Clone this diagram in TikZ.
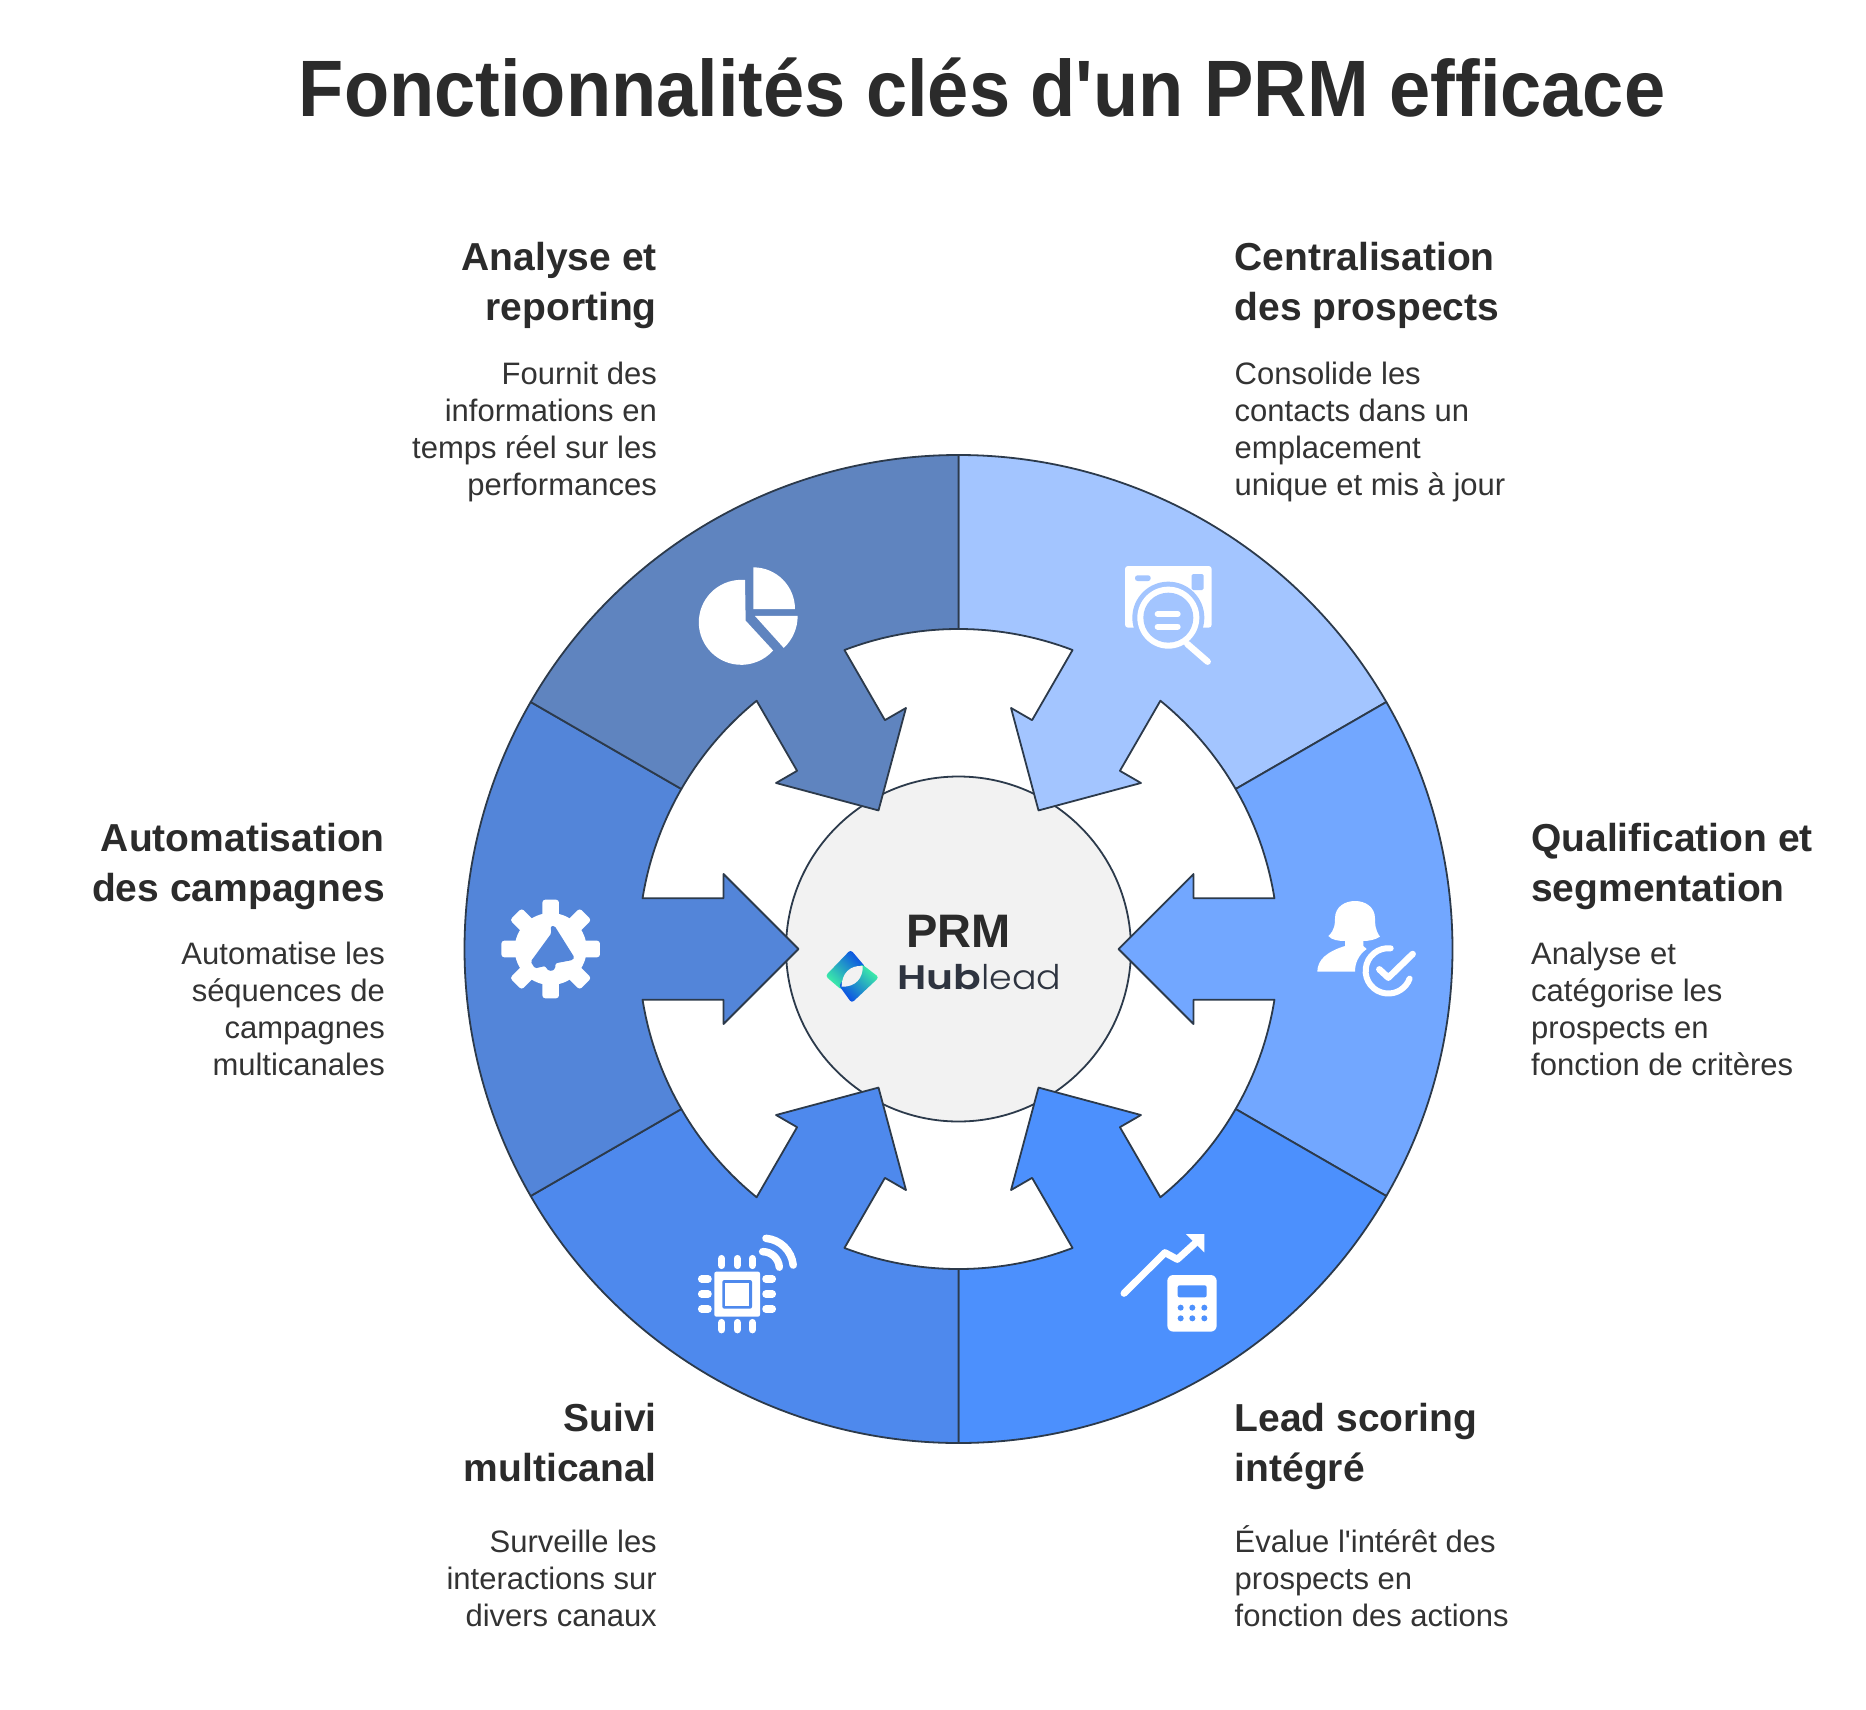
\documentclass[tikz,border=0pt]{standalone}
\usepackage{fontspec}
\usepackage{graphicx}
\setmainfont{Liberation Sans}[Ligatures=TeXOff]
\newfontfamily\hubbold{Poppins}[UprightFont=* SemiBold]
\newfontfamily\hublight{Poppins}[UprightFont=* Light]
\definecolor{ink}{HTML}{2B2B2B}
\definecolor{bodyink}{HTML}{333333}
\definecolor{edge}{HTML}{2C3A4B}
\definecolor{segA}{HTML}{A3C5FF}
\definecolor{segB}{HTML}{72A7FF}
\definecolor{segC}{HTML}{4C90FD}
\definecolor{segD}{HTML}{4E89ED}
\definecolor{segE}{HTML}{5385D9}
\definecolor{segF}{HTML}{5F84BF}
\definecolor{hubdark}{HTML}{2E3440}
\definecolor{hubblue}{HTML}{0A4BE6}
\definecolor{hubgreen}{HTML}{3DF2A6}
\newcommand{\titlefont}{\fontsize{39}{49.5}\selectfont\bfseries}
\newcommand{\bodyfont}{\fontsize{31}{37}\selectfont}
\tikzset{
  x=1pt,y=1pt,
  seg/.style={draw=edge,line width=1.8pt,line join=round},
  heading/.style={inner sep=0pt,text=ink,font=\titlefont},
  bodytext/.style={inner sep=0pt,text=bodyink,font=\bodyfont},
  icon/.style={x=0.3333pt,y=-0.3333pt},
}
\newcommand{\wheelseg}[2]{%
  \begin{scope}[shift={(958.5,-949)},rotate=#1]
    \path[seg,fill=#2] (30:494) arc[start angle=30,end angle=-30,radius=494]
      -- (-30:320) arc[start angle=-30,end angle=-9.12,radius=320]
      -- (235,-50.7) -- (235,-75) -- (160,0) -- (235,75) -- (235,50.7)
      -- (9.12:320) arc[start angle=9.12,end angle=30,radius=320] -- cycle;
  \end{scope}}
\begin{document}
\begin{tikzpicture}
\useasboundingbox (0,0) rectangle (1866,-1710);
\fill[white] (0,0) rectangle (1866,-1710);
\node[inner sep=0pt,text=ink,font=\fontsize{80}{80}\selectfont\bfseries,anchor=base] (title) at (982,-116) {\scalebox{0.925}[1]{Fonctionnalités clés d'un PRM efficace}};

\path[draw=edge,line width=1.8pt,fill=black!5] (958.5,-949) circle (172.5);
\wheelseg{60}{segA}
\wheelseg{0}{segB}
\wheelseg{-60}{segC}
\wheelseg{-120}{segD}
\wheelseg{180}{segE}
\wheelseg{120}{segF}

\node[heading,anchor=base west,align=left] (h1) at (1234.5,-320) {Centralisation\\des prospects};
\node[bodytext,anchor=base west,align=left] (b1) at (1234.5,-495) {Consolide les\\contacts dans un\\emplacement\\unique et mis à jour};
\node[heading,anchor=base west,align=left] (h2) at (1531,-901) {Qualification et\\segmentation};
\node[bodytext,anchor=base west,align=left] (b2) at (1531,-1075) {Analyse et\\catégorise les\\prospects en\\fonction de critères};
\node[heading,anchor=base west,align=left] (h3) at (1234.5,-1481) {Lead scoring\\intégré};
\node[bodytext,anchor=base west,align=left] (b3) at (1234.5,-1626) {Évalue l'intérêt des\\prospects en\\fonction des actions};
\node[heading,anchor=base east,align=right] (h4) at (657,-1481) {Suivi\\multicanal};
\node[bodytext,anchor=base east,align=right] (b4) at (657,-1626) {Surveille les\\interactions sur\\divers canaux};
\node[heading,anchor=base east,align=right] (h5) at (385,-901) {Automatisation\\des campagnes};
\node[bodytext,anchor=base east,align=right] (b5) at (385,-1075) {Automatise les\\séquences de\\campagnes\\multicanales};
\node[heading,anchor=base east,align=right] (h6) at (657,-320) {Analyse et\\reporting};
\node[bodytext,anchor=base east,align=right] (b6) at (657,-495) {Fournit des\\informations en\\temps réel sur les\\performances};

\node[inner sep=0pt,text=ink,font=\fontsize{47}{47}\selectfont\bfseries,anchor=base] (prm) at (958.5,-947) {PRM};
\node[inner sep=0pt,text=hubdark,anchor=base west] (hub) at (897,-989) {\fontsize{34}{34}\selectfont\scalebox{1.2}[1]{\hubbold Hub}\scalebox{1.07}[1]{\hublight lead}};

% logo mark
\begin{scope}[shift={(800,-890)},icon]
  \shade[top color=hubblue,bottom color=hubgreen,shading angle=-45,rounded corners=3pt]
    (76,258) -- (152,179) -- (197,232) -- (125,300) -- cycle;
  \shade[top color=hubgreen,bottom color=hubblue,shading angle=-45,rounded corners=3pt]
    (185,222) -- (237,262) -- (155,339) -- (116,285) -- cycle;
  \fill[black!5] (188,228) .. controls (150,225) and (125,250) .. (125,290)
    .. controls (165,292) and (190,265) .. (188,228) -- cycle;
\end{scope}

% icon: camera and magnifier
\begin{scope}[shift={(1080,-540)},icon]
  \fill[white,rounded corners=3pt] (135,78) rectangle (395,263);
  \fill[segA] (265,233) circle (108);
  \fill[segA] (150,263) rectangle (380,345);
  \fill[white] (265,233) circle (93);
  \fill[segA] (265,233) circle (75);
  \draw[white,line width=6pt,line cap=round] (233,222) -- (293,222);
  \draw[white,line width=6pt,line cap=round] (233,260) -- (293,260);
  \draw[white,line width=6.5pt,line cap=round] (322,312) -- (383,365);
  \fill[segA,rounded corners=2.5pt] (165,106) rectangle (212,123);
  \fill[segA,rounded corners=1.5pt] (335,102) rectangle (371,150);
\end{scope}

% icon: pie chart
\begin{scope}[shift={(680,-550)},icon]
  \fill[white] (195,90) arc[start angle=-85,end angle=-318.5,radius=127.5] -- (197,212) -- cycle;
  \fill[white] (220,52) arc[start angle=-90,end angle=0,radius=125] -- (220,177) -- cycle;
  \fill[white] (353,198) arc[start angle=0,end angle=47,radius=131] -- (225,198) -- cycle;
\end{scope}

% icon: gear and bell
\begin{scope}[shift={(480,-880)},icon]
  \fill[white] (212,207) circle (108);
  \foreach \a in {0,45,...,315} {
    \fill[white,rounded corners=3pt,rotate around={\a:(212,207)}] (187,59) rectangle (237,130);
  }
  \fill[segE,rounded corners=1.5pt] (212,138) -- (224,138) -- (283,232) -- (278,240) -- (226,250)
    -- (226,265) -- (215,274) -- (200,268) -- (197,258) -- (165,265) -- (152,245) -- (214,160) -- cycle;
\end{scope}

% icon: person and check
\begin{scope}[shift={(1300,-880)},icon]
  \fill[white] (85,168) .. controls (105,150) and (105,130) .. (105,115)
    .. controls (105,80) and (135,63) .. (165,63)
    .. controls (195,63) and (225,80) .. (225,115)
    .. controls (225,130) and (225,150) .. (240,170)
    .. controls (225,180) and (205,183) .. (190,183)
    -- (190,198) -- (200,207)
    .. controls (175,225) and (165,250) .. (165,275)
    -- (52,275) .. controls (52,240) and (80,215) .. (135,198)
    -- (135,183) .. controls (115,183) and (95,180) .. (85,168) -- cycle;
  \draw[white,line width=6pt,line cap=round] (272,205) arc[start angle=-84,end angle=-340,radius=68];
  \draw[white,line width=6.5pt,line cap=round,line join=round] (238,268) -- (265,293) -- (338,222);
\end{scope}

% icon: chip and signal
\begin{scope}[shift={(680,-1210)},icon]
  \fill[white,rounded corners=2pt] (103,185) rectangle (240,320);
  \fill[segD,rounded corners=2pt] (127,210) rectangle (216,296);
  \fill[white] (136,220) rectangle (207,287);
  \foreach \p in {125,172,217} {
    \draw[white,line width=7.5pt,line cap=round] (\p,146) -- (\p,166);
    \draw[white,line width=7.5pt,line cap=round] (\p,338) -- (\p,359);
  }
  \foreach \p in {207,252,297} {
    \draw[white,line width=7.5pt,line cap=round] (65,\p) -- (84,\p);
    \draw[white,line width=7.5pt,line cap=round] (258,\p) -- (277,\p);
  }
  \draw[white,line width=7.5pt,line cap=round] (258,85) arc[start angle=-85,end angle=-6,radius=90];
  \draw[white,line width=7.5pt,line cap=round] (248,125) arc[start angle=-90,end angle=-4,radius=50];
\end{scope}

% icon: trend and calculator
\begin{scope}[shift={(1100,-1210)},icon]
  \draw[white,line width=7pt,line cap=round,line join=round] (72,250) -- (195,128) -- (232,148) -- (285,100);
  \fill[white] (258,72) -- (313,72) -- (313,127) -- cycle;
  \fill[white,rounded corners=6pt] (202,195) rectangle (350,365);
  \fill[segC,rounded corners=2pt] (233,226) rectangle (320,262);
  \foreach \p in {242,277,313} {
    \fill[segC] (\p,293) circle (9);
    \fill[segC] (\p,325) circle (9);
  }
\end{scope}
\end{tikzpicture}
\end{document}
